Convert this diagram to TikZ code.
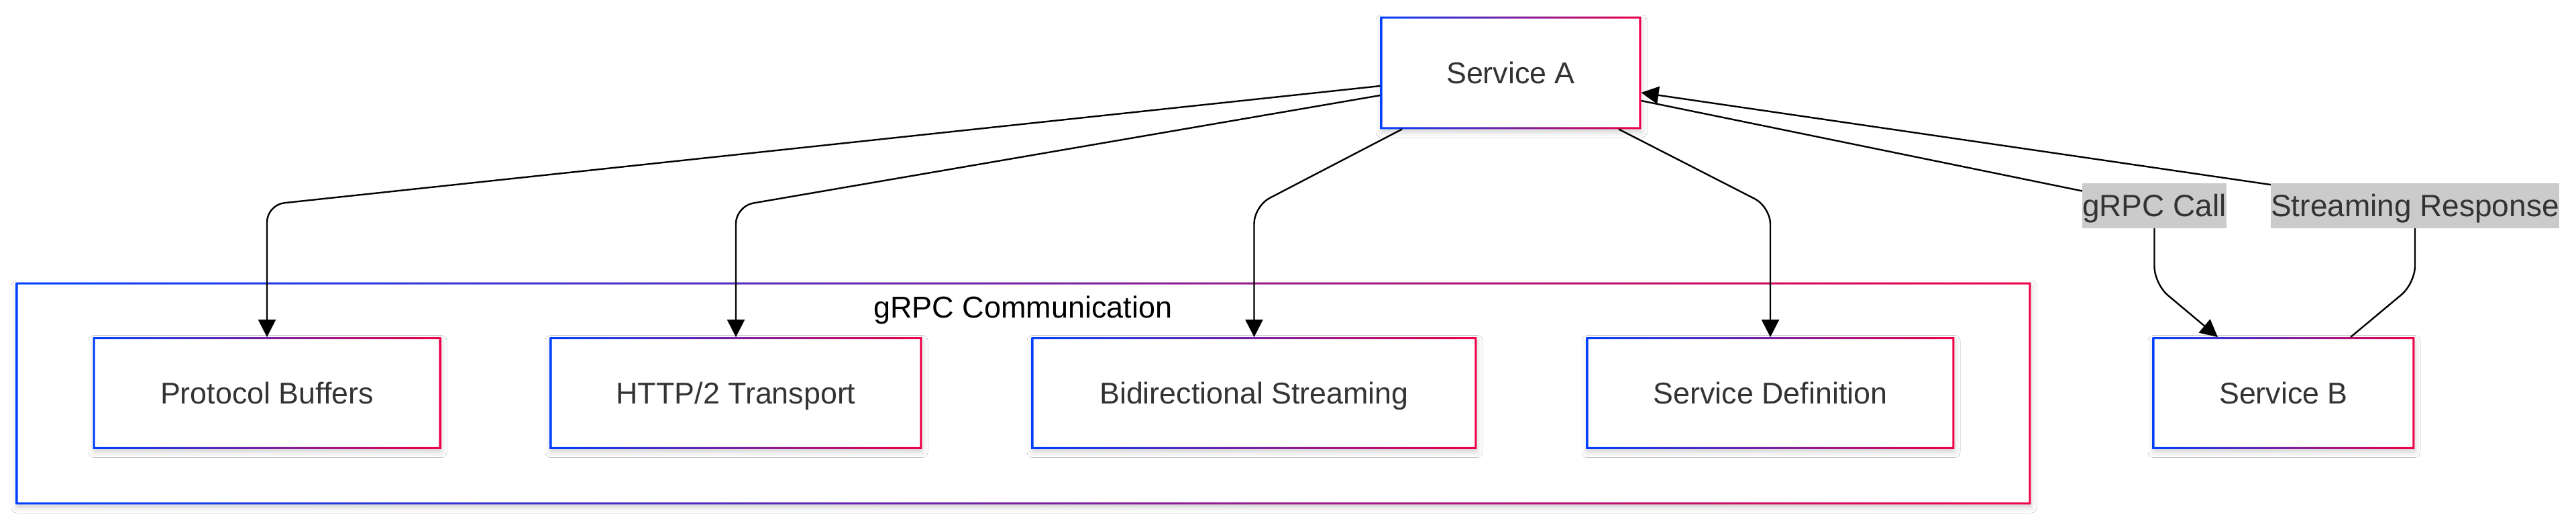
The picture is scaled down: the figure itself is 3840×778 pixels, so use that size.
\documentclass[tikz,border=0pt]{standalone}
\usepackage{fontspec}
\setmainfont{Liberation Sans}
\usetikzlibrary{arrows.meta,calc,shadows.blur}
\definecolor{gblue}{RGB}{0,64,255}
\definecolor{gred}{RGB}{240,0,72}
\definecolor{txt}{HTML}{333333}
\definecolor{lblbg}{HTML}{CBCBCB}
\pgfdeclarelayer{front}
\pgfsetlayers{main,front}
\newcommand\gring[1]{\shade[left color=gblue,right color=gred,even odd rule] (#1.south west) rectangle (#1.north east) ($(#1.south west)+(3,-3)$) rectangle ($(#1.north east)+(-3,3)$);}
\begin{document}
\begin{tikzpicture}[x=0.5pt,y=-0.5pt,
  box/.style={rectangle, fill=white, inner sep=0pt, text=txt,
    font=\fontsize{22.4pt}{26pt}\selectfont, text height=16.04pt, text depth=0pt,
    minimum height=83pt,
    blur shadow={shadow xshift=0.5pt, shadow yshift=-2.5pt, shadow blur radius=4pt, shadow opacity=18}},
  clusterbox/.style={rectangle, fill=white, inner sep=0pt,
    blur shadow={shadow xshift=0.5pt, shadow yshift=-2.5pt, shadow blur radius=4pt, shadow opacity=18}},
  ctitle/.style={inner sep=0pt, text=black, font=\fontsize{22.5pt}{27pt}\selectfont, text height=16.1pt, text depth=0pt},
  elabel/.style={rectangle, fill=lblbg, inner sep=0pt, text=txt,
    font=\fontsize{23pt}{27pt}\selectfont, text height=16.47pt, text depth=0pt,
    minimum height=33.5pt},
  edge/.style={draw=black, line width=1.2pt, rounded corners=13pt},
  arr/.style={-{Triangle[length=13pt,width=13pt]}}
]
\useasboundingbox (0,0) rectangle (3840,778);
\fill[white] (0,0) rectangle (3840,778);

% cluster
\node[clusterbox, minimum width=1501.5pt, minimum height=165pt] (C) at (1525.5,586) {};
\gring{C}
\node[ctitle] (T) at (1525,457) {gRPC Communication};

% nodes
\node[box, minimum width=194pt, minimum height=83.5pt] (A) at (2252,108.5) {Service A};
\node[box, minimum width=259pt] (PB) at (398,585.5) {Protocol Buffers};
\node[box, minimum width=277pt] (HT) at (1097,585.5) {HTTP/2 Transport};
\node[box, minimum width=331.5pt] (BS) at (1869.5,585.5) {Bidirectional Streaming};
\node[box, minimum width=274pt] (SD) at (2639,585.5) {Service Definition};
\node[box, minimum width=195pt] (B) at (3404,585.5) {Service B};
\gring{A}
\gring{PB}
\gring{HT}
\gring{BS}
\gring{SD}
\gring{B}

% edge labels (on top)
\begin{pgfonlayer}{front}
\node[elabel, minimum width=106.5pt] (L1) at (3211.5,306.5) {gRPC Call};
\node[elabel, minimum width=215pt] (L2) at (3600,306.5) {Streaming Response};
\end{pgfonlayer}

% bends
\coordinate (k1) at (398,305);
\coordinate (k2) at (1097,307);
\coordinate (k3) at (1869.5,307);
\coordinate (k4) at (2639,308);
\coordinate (k5) at (3211.5,423);
\coordinate (k6) at (3600,422);

% edges
\draw[edge,arr] ($(A.west)+(0,19.5)$) -- (k1) -- (PB.north);
\draw[edge,arr] ($(A.west)+(0,33.5)$) -- (k2) -- (HT.north);
\draw[edge,arr] ($(A.south)+(-162,0)$) -- (k3) -- (BS.north);
\draw[edge,arr] ($(A.south)+(161,0)$) -- (k4) -- (SD.north);
\draw[edge,arr] ($(A.east)+(0,41.5)$) -- (L1.center) -- (k5) -- ($(B.north)+(-98,0)$);
\draw[edge,arr] ($(B.north)+(100,0)$) -- (k6) -- (L2.center) -- ($(A.east)+(0,29.5)$);
\end{tikzpicture}
\end{document}
